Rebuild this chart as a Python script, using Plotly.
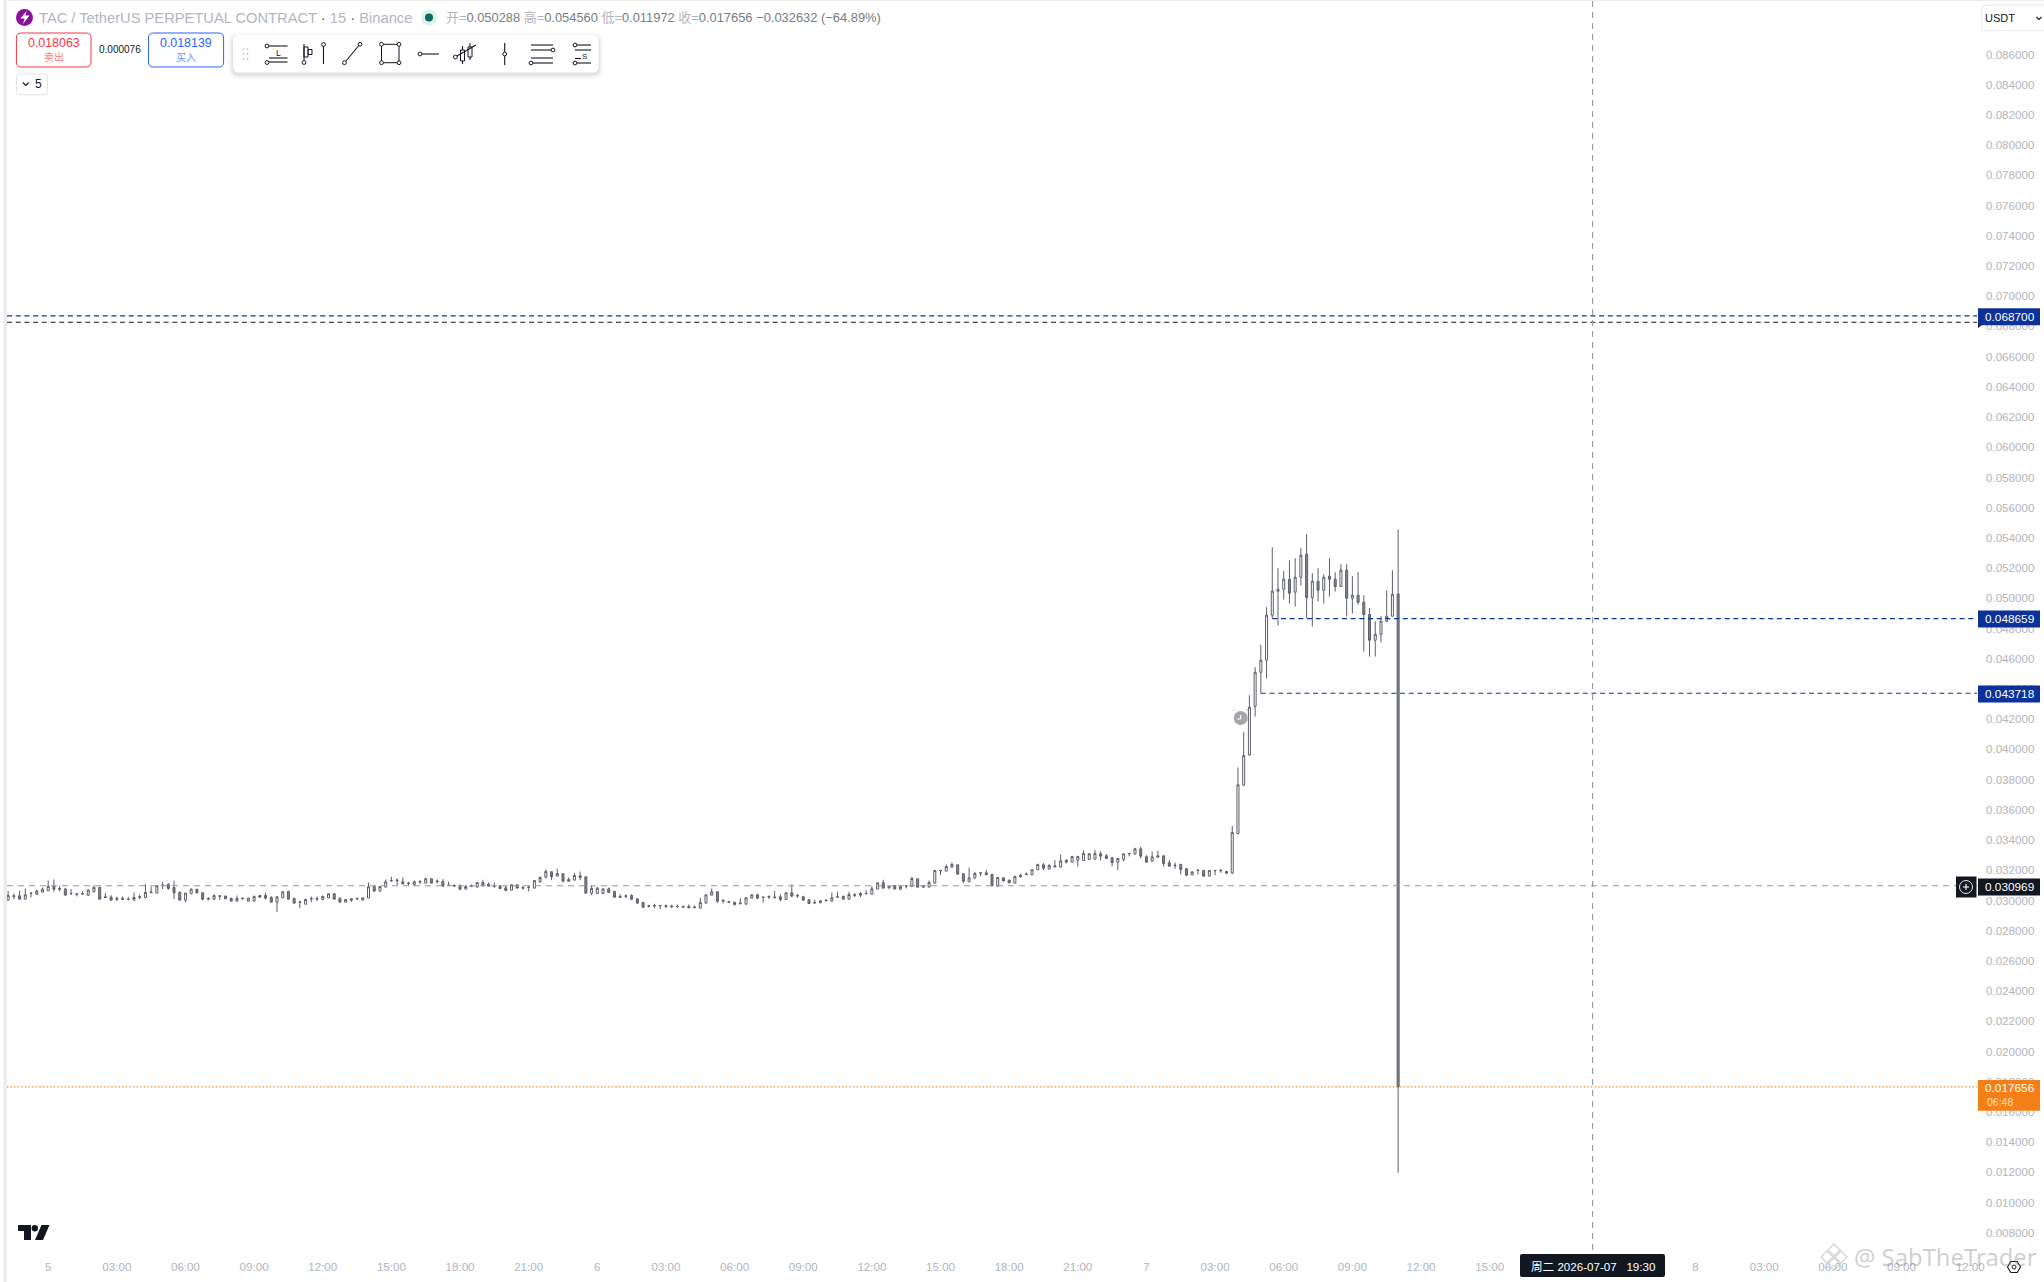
import pandas as pd
import plotly.graph_objects as go

# ---- data: prices in millionths of a USDT, 15-minute bars ----
FIRST_BAR = "2026-07-04 22:15"
OPEN = [30020,30263,30307,30086,30462,30417,30550,30638,30947,30793,30748,30462,30417,30417,30351,30594,30859,30241,30219,30131,30131,30086,30020,30197,30197,30506,30484,30969,31058,30859,30528,30020,30440,30726,30506,30086,30086,30263,30285,30131,29954,30153,29954,29954,30329,30329,30197,29888,30175,30594,30131,29888,29755,30086,30086,30064,30175,30440,30131,29888,30109,30086,30020,30153,30925,30616,30881,31300,31300,31234,31124,31058,
31212,31146,31433,31234,31256,30991,30947,30947,30748,30925,30881,31190,31080,30969,30969,30837,30682,31035,30859,30859,30815,31256,31543,31896,31609,31764,31389,31344,31631,31565,30484,30462,30462,30770,30594,30263,30263,30329,30109,29866,29601,29623,29645,29601,29579,29579,29557,29601,29513,29490,29822,30351,30572,29954,29932,29888,29778,29755,30153,30373,30197,30219,30175,30241,30064,30506,30285,30241,30042,29822,29844,29976,29954,30219,
30263,30086,30329,30462,30440,30417,30748,31168,30815,30991,30748,30947,30925,31433,30881,30881,31146,31962,31940,32205,32360,31764,31234,31477,31808,31830,31719,30947,31499,31344,31146,31653,31719,31697,32029,32360,32073,32293,32205,32646,32536,32669,32646,32713,32735,33088,32955,32823,32536,32713,33088,33066,33419,32889,32602,32955,32955,32492,32293,32382,32095,31697,31985,31985,31609,31962,31962,31918,
31808,34434,37634,39635,42857,45108,45903,48882,50471,50604,51266,50405,51398,52921,50052,51133,50538,51465,51266,50780,51862,50008,50207,49743,48927,47227,47624,48485,48816,50288]
HIGH = [30638,30462,30638,30793,30528,30726,30859,31322,31389,30969,30837,30748,30440,30616,30748,30991,30903,30506,30351,30263,30263,30241,30528,30395,31080,30903,31013,31234,31146,31300,30616,30484,30793,30793,30506,30219,30395,30307,30329,30197,30329,30175,30175,30329,30373,30528,30285,30285,30616,30638,30197,29910,30131,30263,30263,30329,30462,30462,30219,30064,30109,30197,30175,31190,30969,30925,31389,31565,31455,31521,31234,31322,
31344,31521,31433,31389,31411,31256,31058,31058,31035,31058,31190,31366,31190,31190,30969,30947,31035,31035,30991,30991,31322,31587,32073,31940,32117,31786,31521,31830,31918,31565,30969,30903,30770,30859,30638,30417,30395,30417,30131,29910,29711,29778,29689,29733,29711,29733,29667,29733,29667,30175,30373,30793,30572,30086,29932,29888,30153,30219,30395,30440,30219,30329,30638,30417,30528,31058,30440,30307,30064,30042,30020,30042,30528,30572,
30329,30572,30484,30572,30682,30947,31168,31366,30947,31013,30925,30969,31565,31433,31035,31322,32029,31985,32382,32514,32360,31764,32183,31896,31830,32029,31764,31543,31499,31366,31631,31786,31852,32029,32426,32470,32404,32669,33044,32735,32955,32955,33309,33154,33353,33264,33066,32889,32823,33088,33110,33485,33551,33000,33220,33286,32955,32669,32514,32426,32161,31896,32007,32029,32007,32007,32095,31962,
34941,38804,41136,43586,45439,46918,49412,53385,51994,51818,52524,52656,53318,54267,51663,51994,51597,52656,51729,52259,52259,51465,51729,50207,49346,48485,48816,50538,51862,54560]
LOW = [30020,30086,30086,30086,30197,30351,30550,30638,30550,30594,30351,30395,30263,30395,30285,30506,30086,30175,30020,29954,30020,30020,30020,30064,30131,30506,30484,30748,30704,30086,30020,29866,30440,30462,29998,29998,30020,30042,30086,29954,29954,30020,29954,29954,30175,30064,29888,29225,30175,30086,29822,29490,29755,29888,29954,30020,30153,30086,29888,29888,29910,30086,30020,30153,30616,30616,30881,31234,31013,31058,30947,30925,
31080,31146,31146,31124,30947,30969,30881,30682,30748,30881,30881,30969,30947,30837,30748,30616,30682,30815,30726,30594,30815,31146,31455,31344,31587,31190,31278,31344,31344,30484,30351,30417,30417,30484,30197,30197,30153,30020,29822,29490,29535,29490,29424,29490,29490,29513,29490,29490,29490,29490,29822,30329,29822,29800,29822,29667,29755,29755,30131,30086,29866,30086,30153,29932,30042,30241,30175,29998,29755,29800,29822,29954,29954,30197,
30086,30086,30219,30219,30417,30417,30748,30815,30815,30704,30682,30793,30903,30881,30815,30881,31146,31675,31940,32183,31742,31146,31234,31455,31609,31675,30947,30947,31234,31146,31146,31521,31675,31675,32029,32007,32073,32227,32205,32448,32536,32249,32624,32669,32735,32646,32779,32249,32007,32580,32911,33066,32779,32536,32580,32867,32249,32249,32095,31719,31609,31675,31719,31587,31609,31675,31830,31742,
31741,34368,37568,39591,42173,43718,44689,48684,48198,49920,49655,49456,50847,48684,48132,49787,49655,50118,50449,50780,48794,48992,49588,46477,46146,46146,47073,48419,48816,11972]
CLOSE = [30329,30307,30086,30373,30484,30616,30748,30925,30748,30748,30351,30440,30440,30462,30682,30859,30086,30197,30020,30086,30086,30064,30197,30241,30528,30550,30969,31013,30793,30506,30020,30484,30748,30506,30086,30131,30329,30307,30109,29954,30131,30131,30153,30263,30219,30153,29888,30241,30572,30086,29822,29910,30064,30131,30131,30263,30440,30086,29888,30064,30020,30131,30175,30903,30616,30925,31234,31322,31344,31102,31146,31234,
31256,31433,31146,31278,30947,31013,30991,30748,30925,30991,31190,30969,30947,30947,30793,30660,31035,30815,30815,30881,31322,31521,31918,31587,31786,31278,31278,31653,31521,30484,30793,30815,30770,30528,30219,30219,30307,30086,29822,29557,29645,29667,29667,29645,29623,29601,29601,29513,29557,29866,30373,30572,29954,29998,29888,29733,29822,30175,30373,30153,30219,30263,30219,30064,30506,30285,30329,30020,29800,29866,29976,30020,30175,30241,
30086,30395,30373,30351,30462,30770,31168,30815,30925,30770,30925,30969,31455,30881,30947,31190,31985,31985,32249,32382,31742,31278,31499,31786,31830,31697,30969,31521,31300,31168,31587,31565,31742,32029,32382,32139,32315,32227,32625,32536,32911,32911,33110,33088,33110,32933,32779,32514,32779,33088,33110,33419,32933,32536,32889,32867,32448,32271,32337,32051,31675,31896,32007,31609,31985,31985,31985,31808,
34500,37656,39591,42791,45108,45903,48882,50471,50604,51266,50339,51398,52855,50052,51133,50538,51398,51266,50780,51862,50008,50207,49743,48927,47227,47624,48485,48816,50273,17656]
PRICE_TICKS = [v / 1000 for v in range(8, 88, 2)]
# the 18:00 and 21:00 ticks of day 7 lie behind the crosshair label in the reference
TIME_TICK_HOURS = [h for h in range(0, 87, 3) if h not in (66, 69)]
TIME_TICK_TEXT = ["5","03:00","06:00","09:00","12:00","15:00","18:00","21:00",
                  "6","03:00","06:00","09:00","12:00","15:00","18:00","21:00",
                  "7","03:00","06:00","09:00","12:00","15:00",
                  "8","03:00","06:00","09:00","12:00"]
ORDER_HIGH = 0.068700
ORDER_HIGH_2 = 0.068280
ORDER_MID = 0.048659
ORDER_LOW = 0.043718
CROSS_PRICE = 0.030969
LAST_PRICE = 0.017656
ORDER_MID_START = "2026-07-07 05:30"
ORDER_LOW_START = "2026-07-07 05:00"
CROSS_TIME = "2026-07-07 19:30"
X_RANGE = ["2026-07-04 22:12", "2026-07-08 12:18"]
Y_RANGE = [0.006860, 0.089608]

# ---- page geometry, for the interface chrome only ----
L, R, T, B = 7, 1977, 0, 1250
def px(x): return (x - L) / (R - L)
def py(y): return 1 - (y - T) / (B - T)

times = pd.date_range(FIRST_BAR, periods=len(OPEN), freq="15min")
scale = lambda a: [v / 1e6 for v in a]

fig = go.Figure()
fig.add_trace(go.Candlestick(
    x=times, open=scale(OPEN), high=scale(HIGH), low=scale(LOW), close=scale(CLOSE),
    whiskerwidth=0,
    increasing=dict(line=dict(color="#5d606b", width=1), fillcolor="#ffffff"),
    decreasing=dict(line=dict(color="#5d606b", width=1), fillcolor="#7f8290"),
    hoverinfo="skip", showlegend=False))

def hline(start, value, color, dash):
    fig.add_trace(go.Scatter(x=[start, X_RANGE[1]], y=[value, value], mode="lines",
                             line=dict(color=color, width=1.1, dash=dash),
                             hoverinfo="skip", showlegend=False))

BLUE = "#0c3299"
hline(X_RANGE[0], ORDER_HIGH, BLUE, "5px,3.7px")
hline(X_RANGE[0], ORDER_HIGH_2, "#131722", "5px,3.7px")
hline(ORDER_MID_START, ORDER_MID, BLUE, "5px,3.7px")
hline(ORDER_LOW_START, ORDER_LOW, BLUE, "5px,3.7px")
hline(X_RANGE[0], CROSS_PRICE, "#9598a1", "6px,5px")
hline(X_RANGE[0], LAST_PRICE, "#f57f17", "1.3px,2.3px")
fig.add_trace(go.Scatter(x=[CROSS_TIME, CROSS_TIME], y=Y_RANGE, mode="lines",
                         line=dict(color="#9598a1", width=1.1, dash="6px,5px"),
                         hoverinfo="skip", showlegend=False))

tick_times = [pd.Timestamp("2026-07-05") + pd.Timedelta(hours=h) for h in TIME_TICK_HOURS]

shapes, annos = [], []
INK = "#131722"
def rect(x0, y0, x1, y1, fill=None, line=None, lw=1, op=1):
    shapes.append(dict(type="rect", xref="paper", yref="paper", layer="above",
                       x0=px(x0), x1=px(x1), y0=py(y0), y1=py(y1), opacity=op,
                       fillcolor=fill or "rgba(0,0,0,0)",
                       line=dict(color=line or "rgba(0,0,0,0)", width=lw if line else 0)))
def rrect(x0, y0, x1, y1, r, fill=None, line=None, lw=1, op=1):
    a, b, c, d = px(x0), px(x1), py(y0), py(y1)
    rx, ry = r / (R - L), r / (B - T)
    p = (f"M{a+rx},{c} L{b-rx},{c} Q{b},{c} {b},{c-ry} L{b},{d+ry} Q{b},{d} {b-rx},{d} "
         f"L{a+rx},{d} Q{a},{d} {a},{d+ry} L{a},{c-ry} Q{a},{c} {a+rx},{c} Z")
    shapes.append(dict(type="path", xref="paper", yref="paper", layer="above", path=p, opacity=op,
                       fillcolor=fill or "rgba(0,0,0,0)",
                       line=dict(color=line or "rgba(0,0,0,0)", width=lw if line else 0)))
def seg(x0, y0, x1, y1, color=INK, lw=1.1, op=1):
    shapes.append(dict(type="line", xref="paper", yref="paper", layer="above", opacity=op,
                       x0=px(x0), x1=px(x1), y0=py(y0), y1=py(y1), line=dict(color=color, width=lw)))
def dot(x, y, r=2.1, fill="#ffffff", line=INK, lw=1, op=1):
    shapes.append(dict(type="circle", xref="paper", yref="paper", layer="above", opacity=op,
                       x0=px(x-r), x1=px(x+r), y0=py(y-r), y1=py(y+r),
                       fillcolor=fill, line=dict(color=line or "rgba(0,0,0,0)", width=lw if line else 0)))
def poly(points, fill, line=None, lw=0, op=1):
    p = "M" + " L".join(f"{px(x)},{py(y)}" for x, y in points) + " Z"
    shapes.append(dict(type="path", xref="paper", yref="paper", layer="above", path=p, opacity=op,
                       fillcolor=fill, line=dict(color=line or "rgba(0,0,0,0)", width=lw)))
def text(x, y, s, size=12, color=INK, anchor="center", font="Liberation Sans"):
    annos.append(dict(xref="paper", yref="paper", x=px(x), y=py(y), text=s, showarrow=False,
                      xanchor=anchor, yanchor="middle", borderpad=0, borderwidth=0,
                      font=dict(size=size, color=color, family=font)))

# window edges
rect(3.3, -2, 7, 1284, fill="#ededed")
rect(3.3, -2, 2044, 1, fill="#ededed")

# legend row
dot(24.5, 17.5, r=8.5, fill="#8a0f9c", line=None)
poly([(26.5, 11), (20.5, 18.5), (24.5, 18.5), (23, 24), (29.5, 15.5), (25.5, 15.5)], "#ffffff")
text(38.5, 17.5, "TAC / TetherUS PERPETUAL CONTRACT <span style='color:#50535e'>·</span> 15 <span style='color:#50535e'>·</span> Binance",
     size=14.7, color="#b2b5be", anchor="left")
dot(429, 17.5, r=8, fill="#dcf1ed", line=None)
dot(429, 17.5, r=4, fill="#0b6b5c", line=None)
val = "<span style='color:#787b86'>%s</span>"
text(446, 17.5, "开=" + val % "0.050288" + " 高=" + val % "0.054560" + " 低=" + val % "0.011972"
     + " 收=" + val % "0.017656" + " " + val % "−0.032632 (−64.89%)",
     size=12.9, color="#b2b5be", anchor="left", font="Liberation Sans, Noto Sans CJK SC")

# buy/sell buttons
rrect(16.4, 33, 91, 67, 5, fill="#ffffff", line="#f23645", lw=1)
text(53.7, 42.5, "0.018063", size=12.4, color="#f23645")
text(53.7, 57, "卖出", size=10, color="#f77c80", font="Noto Sans CJK SC")
text(120, 49.5, "0.000076", size=10, color=INK)
rrect(148.5, 33, 223.6, 67, 5, fill="#ffffff", line="#2962ff", lw=1)
text(186, 42.5, "0.018139", size=12.4, color="#2962ff")
text(186, 57, "买入", size=10, color="#6f95ff", font="Noto Sans CJK SC")
rrect(16.4, 74, 47.5, 94.7, 3, fill="#ffffff", line="#e0e3eb", lw=1)
seg(23, 82.5, 25.8, 85.5, color="#131722"); seg(25.8, 85.5, 28.6, 82.5, color="#131722")
text(38.7, 84.5, "5", size=12, color=INK)

# drawing toolbar
for g, o in ((5, 0.015), (3.5, 0.025), (2, 0.035), (1, 0.04)):
    rrect(233 - g, 35 - g + 2, 598.6 + g, 72.5 + g + 2, 6 + g, fill="#000000", op=o)
rrect(233, 35, 598.6, 72.5, 6, fill="#ffffff")
for gx in (243.5, 247.5):
    for gy in (49, 54, 59):
        dot(gx, gy, r=1, fill="#c8cad0", line=None)
# long position
dot(267, 46, 1.9); seg(269, 46, 287.5, 46); seg(269, 62, 287.5, 62); dot(267, 62.5, 1.9); seg(269, 58, 287.5, 58)
text(278, 52.5, "L", size=8.5)
# anchored bars
seg(304, 44, 304, 60); dot(304, 62.5, 1.9); rect(304, 47, 308, 57, line=INK); rect(308, 49.5, 312, 54.5, line=INK)
dot(323.5, 44.5, 1.9); seg(323.5, 46.5, 323.5, 64)
# trend line
dot(344.5, 62.7, 1.9); seg(346, 61, 358.5, 46); dot(360, 44.3, 1.9)
# rectangle
rect(381.5, 44.3, 399, 62.7, line=INK)
for cx in (381.5, 399):
    for cy in (44.3, 62.7):
        dot(cx, cy, 1.9)
# ray
dot(420, 54, 1.9); seg(422, 54, 439, 54)
# candles
seg(462.5, 46, 462.5, 64); rect(460.5, 50, 464.5, 61, fill="#ffffff", line=INK)
seg(470, 43, 470, 60); rect(468, 47, 472, 57, fill="#ffffff", line=INK)
dot(455.4, 57, 1.9); seg(457, 56, 476, 45)
# vertical line
seg(504.7, 43, 504.7, 65); dot(504.7, 54, 1.9)
# parallel lines
seg(531, 45, 553, 45); seg(531, 50, 551, 50); dot(553, 50, 1.9); seg(531, 58, 553, 58); seg(533, 63, 553, 63); dot(531, 63, 1.9)
# fib
dot(575, 45, 1.9); seg(577, 45, 591, 45); seg(575, 50, 591, 50); seg(575, 58.5, 581, 58.5); dot(575, 63, 1.9); seg(577, 63, 591, 63)
text(584, 56.5, "S", size=8)

# alarm marker
dot(1240.7, 718, r=7, fill="#a5a6ab", line=None)
seg(1240.7, 715, 1240.7, 719, color="#ffffff"); seg(1237.5, 719, 1240.7, 719, color="#ffffff")
seg(1233, 711, 1235, 709, color="#c4c5c9", lw=1); seg(1248, 711, 1246, 709, color="#c4c5c9", lw=1)

# price scale
rrect(1981.7, 5, 2060, 30.7, 4, fill="#ffffff", line="#e8eaef", lw=1)
text(1985, 18, "USDT", size=11, color=INK, anchor="left")
seg(2036.5, 17, 2039, 19.5); seg(2039, 19.5, 2041.5, 17)

def price_label(y, s, fill):
    rect(1978, y - 8.5, 2040, y + 8.5, fill=fill)
    text(2010, y, s, size=11.8, color="#ffffff")
poly([(1978, 317.5), (1985, 322.5), (1978, 328)], INK)
price_label(316.7, "0.068700", BLUE)
price_label(619, "0.048659", BLUE)
price_label(694, "0.043718", BLUE)
price_label(887, "0.030969", INK)
rect(1956, 876.5, 1976.5, 897.5, fill=INK)
dot(1966, 887, r=6.5, fill=INK, line="#e6e6e8", lw=1)
seg(1963, 887, 1969, 887, color="#ffffff"); seg(1966, 884, 1966, 890, color="#ffffff")
rect(1978, 1080, 2040, 1110.7, fill="#f57f17")
text(2010, 1088, "0.017656", size=11.8, color="#ffffff")
text(2000, 1102, "06:48", size=10.5, color="#ffe0c2")

# time-scale crosshair label
rrect(1520, 1254, 1665, 1277, 2, fill=INK)
text(1592.5, 1266, "周二 2026-07-07&nbsp;&nbsp;&nbsp;19:30", size=11.6, color="#ffffff",
     font="Liberation Sans, Noto Sans CJK SC")

# TradingView mark
poly([(18, 1225), (31, 1225), (31, 1240), (24, 1240), (24, 1231), (18, 1231)], "#131722")
dot(34.8, 1228.3, r=3.2, fill="#131722", line=None)
poly([(41.5, 1225), (49.5, 1225), (43, 1240), (35, 1240)], "#131722")

# watermark
for cx, cy, r in ((1834, 1250, 6), (1827, 1257, 6), (1841, 1257, 6), (1834, 1264, 6)):
    poly([(cx, cy - r), (cx + r, cy), (cx, cy + r), (cx - r, cy)], "rgba(0,0,0,0)", line="#c9c9c9", lw=1.4, op=0.75)
text(1854, 1257, "@ SabTheTrader", size=23.8, color="rgba(120,120,125,0.36)", anchor="left", font="Noto Sans")
# settings
hex_pts = [(2007.5, 1267), (2010.8, 1261.5), (2017.2, 1261.5), (2020.5, 1267), (2017.2, 1272.5), (2010.8, 1272.5)]
poly(hex_pts, "#ffffff", line=INK, lw=1.1)
dot(2014, 1267, r=2, fill="#ffffff", line=INK)

fig.update_layout(
    width=2044, height=1282, margin=dict(l=L, r=2044 - R, t=T, b=1282 - B, pad=0),
    paper_bgcolor="#ffffff", plot_bgcolor="#ffffff", showlegend=False, boxgap=0.5,
    shapes=shapes, annotations=annos,
    xaxis=dict(type="date", range=X_RANGE, rangeslider=dict(visible=False),
               tickmode="array", tickvals=tick_times, ticktext=TIME_TICK_TEXT, ticks="",
               showgrid=False, zeroline=False, showline=False, tickangle=0, ticklabeloverflow="allow",
               ticklabelstandoff=8, tickfont=dict(family="Liberation Sans", size=11.6, color="#b2b5be")),
    yaxis=dict(side="right", range=Y_RANGE, tickmode="array", tickvals=PRICE_TICKS,
               tickformat=".6f", ticks="", showgrid=False, zeroline=False, showline=False,
               ticklabelstandoff=8, tickfont=dict(family="Liberation Sans", size=11.6, color="#b2b5be")),
)
fig.write_html("out.html", config=dict(displayModeBar=False),
               post_script="document.body.style.margin='0';document.body.style.overflow='hidden';")
